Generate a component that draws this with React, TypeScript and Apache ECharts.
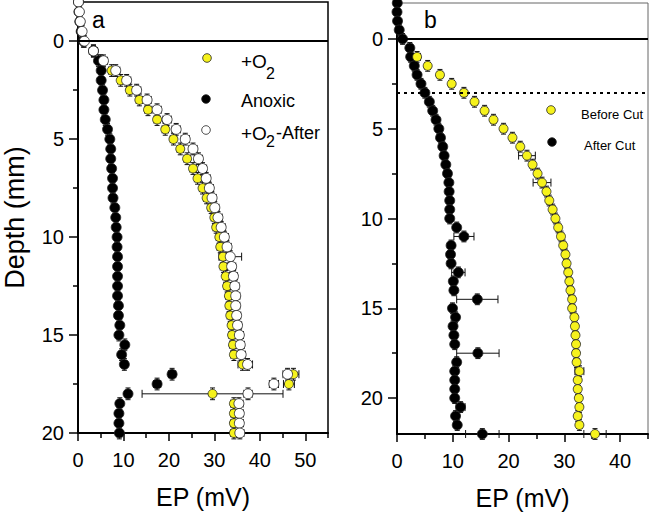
import React, { useEffect, useRef } from "react";
import * as echarts from "echarts";

// ---------- Panel a data (depth in mm, EP in mV) ----------
const depthA = [-2, -1.5, -1, -0.5, 0, 0.5, 1, 1.5, 2, 2.5, 3, 3.5, 4, 4.5, 5, 5.5, 6, 6.5, 7, 7.5, 8, 8.5, 9, 9.5, 10, 10.5, 11, 11.5, 12, 12.5, 13, 13.5, 14, 14.5, 15, 15.5, 16, 16.5, 17, 17.5, 18, 18.5, 19, 19.5, 20];
const o2A = [0.1, 0.2, 0.4, 0.7, 1.2, 3.4, 5.0, 7.4, 9.4, 11.4, 13.5, 15.4, 17.4, 19.2, 21.0, 22.5, 24.0, 25.3, 26.3, 27.4, 28.3, 29.3, 30.0, 30.4, 31.1, 31.3, 31.9, 32.0, 32.5, 32.8, 33.2, 33.3, 33.5, 33.8, 33.9, 34.1, 34.3, 36.2, 47.4, 46.4, 29.6, 34.3, 34.3, 34.3, 34.3];
const o2ErrA = [0.3, 0.3, 0.3, 0.3, 0.3, 0.7, 0.7, 0.7, 0.7, 0.7, 0.7, 0.7, 0.7, 0.7, 0.7, 0.7, 0.7, 0.7, 0.7, 0.7, 0.7, 0.7, 0.7, 0.7, 0.7, 0.7, 0.7, 0.7, 0.7, 0.7, 0.7, 0.7, 0.7, 0.7, 0.7, 0.7, 0.7, 1.0, 1.2, 1.2, 15.5, 0.7, 0.7, 0.7, 0.7];
const anoxicA = [0.1, 0.2, 0.4, 0.7, 1.2, 3.4, 4.5, 5.1, 5.1, 5.4, 5.7, 5.7, 6.0, 6.5, 7.0, 7.2, 7.2, 7.4, 7.6, 7.6, 7.7, 8.1, 8.3, 8.4, 8.6, 8.6, 8.7, 8.7, 8.7, 8.7, 8.7, 8.9, 8.9, 9.2, 9.0, 10.3, 9.6, 10.2, 20.7, 17.4, 11.0, 9.2, 9.0, 9.0, 9.1];
const anoxicErrA = [0.3, 0.3, 0.3, 0.3, 0.3, 0.5, 0.5, 0.5, 0.5, 0.5, 0.5, 0.5, 0.5, 0.5, 0.5, 0.5, 0.5, 0.5, 0.5, 0.5, 0.5, 0.5, 0.5, 0.5, 0.5, 0.5, 0.5, 0.5, 0.5, 0.5, 0.5, 0.5, 0.5, 0.5, 0.5, 0.5, 0.5, 0.5, 0.8, 0.8, 0.6, 0.5, 0.5, 0.5, 0.5];
const afterA = [0.1, 0.3, 0.5, 0.9, 1.4, 3.4, 5.6, 8.3, 10.7, 12.9, 15.2, 17.4, 19.6, 21.6, 23.6, 25.3, 26.5, 27.4, 28.2, 28.9, 29.5, 30.1, 30.8, 31.5, 32.2, 32.8, 33.5, 33.8, 34.2, 34.5, 34.7, 34.7, 34.9, 35.1, 35.5, 35.7, 35.9, 37.3, 46.1, 43.1, 37.4, 35.4, 35.5, 35.5, 35.6];
const afterErrA = [0.3, 0.3, 0.3, 0.3, 0.3, 0.9, 0.9, 0.9, 0.9, 0.9, 0.9, 0.9, 0.9, 0.9, 0.9, 0.9, 0.9, 0.9, 0.9, 0.9, 0.9, 0.9, 0.9, 0.9, 0.9, 0.9, 2.5, 0.9, 0.9, 0.9, 0.9, 0.9, 0.9, 0.9, 0.9, 0.9, 0.9, 1.1, 1.0, 1.0, 0.9, 0.9, 0.9, 0.9, 0.9];

// ---------- Panel b data ----------
const depthAfterCutB = [-2, -1.5, -1, -0.5, 0, 0.5, 1, 1.5, 2, 2.5, 3, 3.5, 4, 4.5, 5, 5.5, 6, 6.5, 7, 7.5, 8, 8.5, 9, 9.5, 10, 10.5, 11, 11.5, 12, 12.5, 13, 13.5, 14, 14.5, 15, 15.5, 16, 16.5, 17, 17.5, 18, 18.5, 19, 19.5, 20, 20.5, 21, 21.5, 22];
const afterCutB = [0.05, 0.0, 0.1, 0.4, 1.0, 2.3, 2.45, 3.1, 3.6, 4.3, 5.0, 5.8, 6.4, 7.0, 7.5, 7.8, 8.2, 8.45, 8.75, 9.05, 9.3, 9.35, 9.45, 9.45, 9.45, 10.7, 12.0, 9.7, 9.6, 9.7, 11.0, 10.1, 10.2, 14.4, 9.95, 10.5, 10.05, 10.2, 10.35, 14.5, 10.7, 10.35, 10.35, 10.35, 10.35, 11.4, 10.5, 10.8, 15.3];
const afterCutErrB = [0.2, 0.2, 0.2, 0.2, 0.2, 0.3, 0.3, 0.3, 0.3, 0.3, 0.3, 0.3, 0.3, 0.3, 0.3, 0.3, 0.3, 0.3, 0.3, 0.3, 0.3, 0.3, 0.3, 0.3, 0.3, 0.4, 1.8, 0.3, 0.3, 0.3, 1.2, 0.3, 0.3, 3.7, 0.3, 0.3, 0.3, 0.3, 0.3, 3.8, 0.3, 0.3, 0.3, 0.3, 0.3, 0.8, 0.3, 0.3, 3.0];
const depthBeforeCutB = [1, 1.5, 2, 2.5, 3, 3.5, 4, 4.5, 5, 5.5, 6, 6.5, 7, 7.5, 8, 8.5, 9, 9.5, 10, 10.5, 11, 11.5, 12, 12.5, 13, 13.5, 14, 14.5, 15, 15.5, 16, 16.5, 17, 17.5, 18, 18.5, 19, 19.5, 20, 20.5, 21, 21.5, 22];
const beforeCutB = [3.6, 5.5, 7.7, 9.8, 12.0, 13.9, 15.7, 17.3, 19.1, 20.7, 22.1, 23.3, 24.3, 25.2, 26.0, 26.8, 27.3, 27.9, 28.4, 28.9, 29.4, 29.8, 30.2, 30.4, 30.7, 30.9, 31.1, 31.4, 31.4, 31.8, 31.9, 32.0, 32.1, 32.1, 32.2, 32.7, 32.4, 32.4, 32.6, 32.7, 32.4, 32.7, 35.5];
const beforeCutErrB = [0.6, 0.5, 0.5, 0.5, 0.5, 0.5, 0.5, 0.5, 0.5, 0.5, 0.5, 1.5, 0.5, 0.5, 1.6, 0.5, 0.5, 0.5, 0.5, 0.5, 0.5, 0.5, 0.5, 0.5, 0.5, 0.5, 0.5, 0.5, 0.5, 0.5, 0.5, 0.5, 0.5, 0.5, 0.5, 0.8, 0.5, 0.5, 0.5, 0.5, 0.5, 0.5, 2.0];
const depthErr = 0.3;

// ---------- Axis ticks ----------
const xMajorA = [0, 10, 20, 30, 40, 50];
const xMinorA = [5, 15, 25, 35, 45, 55];
const xMajorB = [0, 10, 20, 30, 40];
const xMinorB = [5, 15, 25, 35, 45];
const yMajor = [0, 5, 10, 15, 20];
const yMinor = [2.5, 7.5, 12.5, 17.5];
const surfaceDepth = 0;
const cutDepth = 3;

const FONT = "'Liberation Sans', Arial, sans-serif";
const YELLOW = "#f6f21c";

const pts = (vals: number[], depths: number[]) => vals.map((v, i) => [v, depths[i]]);
const errPts = (vals: number[], depths: number[], errs: number[]) =>
  vals.map((v, i) => [v, depths[i], errs[i], depthErr]);

const renderErr = (color: string) => (params: any, api: any) => {
  const x = api.value(0);
  const y = api.value(1);
  const ex = api.value(2);
  const ey = api.value(3);
  const l = api.coord([x - ex, y]);
  const r = api.coord([x + ex, y]);
  const t = api.coord([x, y - ey]);
  const b = api.coord([x, y + ey]);
  const st = { stroke: color, lineWidth: 1 };
  const cap = 4;
  const vcap = 2.5;
  return {
    type: "group",
    children: [
      { type: "line", shape: { x1: l[0], y1: l[1], x2: r[0], y2: r[1] }, style: st },
      { type: "line", shape: { x1: l[0], y1: l[1] - cap, x2: l[0], y2: l[1] + cap }, style: st },
      { type: "line", shape: { x1: r[0], y1: r[1] - cap, x2: r[0], y2: r[1] + cap }, style: st },
      { type: "line", shape: { x1: t[0], y1: t[1], x2: b[0], y2: b[1] }, style: st },
      { type: "line", shape: { x1: t[0] - vcap, y1: t[1], x2: t[0] + vcap, y2: t[1] }, style: st },
      { type: "line", shape: { x1: b[0] - vcap, y1: b[1], x2: b[0] + vcap, y2: b[1] }, style: st },
    ],
  };
};

const scatter = (name: string, data: number[][], xi: number, yi: number, fill: string, size: number, extra: any = {}) => ({
  type: "scatter",
  name,
  xAxisIndex: xi,
  yAxisIndex: yi,
  data,
  symbol: "circle",
  symbolSize: size,
  clip: false,
  silent: true,
  itemStyle: { color: fill, borderColor: "#222", borderWidth: 0.8, opacity: 1 },
  ...extra,
});

const errSeries = (name: string, data: number[][], xi: number, yi: number, color = "#111") => ({
  type: "custom",
  name: name + " error",
  xAxisIndex: xi,
  yAxisIndex: yi,
  coordinateSystem: "cartesian2d",
  encode: { x: 0, y: 1 },
  data,
  clip: false,
  silent: true,
  renderItem: renderErr(color),
});

const xAxisBase = (grid: number, max: number, ticks: number[], minor: boolean, name?: string) => ({
  type: "value",
  gridIndex: grid,
  position: "bottom",
  min: 0,
  max,
  splitLine: { show: false },
  axisLine: { show: !minor, onZero: false, lineStyle: { color: "#000", width: 2 } },
  axisTick: { show: true, inside: false, length: minor ? 5 : 8, customValues: ticks, lineStyle: { color: "#000", width: 1.5 } },
  axisLabel: minor
    ? { show: false }
    : { show: true, customValues: ticks, fontSize: 20, fontFamily: FONT, color: "#000", margin: 17 },
  name: name || "",
  nameLocation: "middle",
  nameGap: 51,
  nameTextStyle: { fontSize: 25, fontFamily: FONT, color: "#000" },
});

const yAxisBase = (grid: number, max: number, ticks: number[], minor: boolean, name?: string) => ({
  type: "value",
  gridIndex: grid,
  position: "left",
  inverse: true,
  min: -2,
  max,
  splitLine: { show: false },
  axisLine: { show: !minor, onZero: false, lineStyle: { color: "#000", width: 2 } },
  axisTick: { show: true, inside: false, length: minor ? 5 : 9, customValues: ticks, lineStyle: { color: "#000", width: 1.5 } },
  axisLabel: minor
    ? { show: false }
    : { show: true, customValues: ticks, fontSize: 20, fontFamily: FONT, color: "#000", margin: 14 },
  name: name || "",
  nameLocation: "middle",
  nameGap: 50,
  nameTextStyle: { fontSize: 27, fontFamily: FONT, color: "#000" },
});

const txt = (x: number, y: number, text: string, size: number, align = "left") => ({
  type: "text",
  x,
  y,
  silent: true,
  style: { text, fontSize: size, fontFamily: FONT, fill: "#000", align, verticalAlign: "middle" },
});
const dot = (x: number, y: number, fill: string) => ({
  type: "circle",
  silent: true,
  shape: { cx: x, cy: y, r: 4.3 },
  style: { fill, stroke: "#222", lineWidth: 0.8 },
});

export default function App() {
  const ref = useRef<HTMLDivElement>(null);
  useEffect(() => {
    if (!ref.current) return;
    const chart = echarts.init(ref.current, undefined, { renderer: "svg" });
    const option: any = {
      animation: false,
      backgroundColor: "#fff",
      grid: [
        { left: 76, top: 2, width: 252, height: 431, show: true, borderColor: "#000", borderWidth: 1.5, backgroundColor: "transparent" },
        { left: 397, top: 3, width: 251, height: 432, show: true, borderColor: "#666", borderWidth: 1, backgroundColor: "transparent" },
      ],
      xAxis: [
        xAxisBase(0, 55, xMajorA, false, "EP (mV)"),
        xAxisBase(0, 55, xMinorA, true),
        xAxisBase(1, 45, xMajorB, false, "EP (mV)"),
        xAxisBase(1, 45, xMinorB, true),
      ],
      yAxis: [
        yAxisBase(0, 20, yMajor, false, "Depth (mm)"),
        yAxisBase(0, 20, yMinor, true),
        yAxisBase(1, 22, yMajor, false),
        yAxisBase(1, 22, yMinor, true),
      ],
      series: [
        scatter("+O2", pts(o2A, depthA), 0, 0, YELLOW, 9, {
          markLine: {
            silent: true,
            symbol: "none",
            label: { show: false },
            lineStyle: { color: "#000", width: 2, type: "solid" },
            data: [{ yAxis: surfaceDepth }],
          },
        }),
        errSeries("+O2", errPts(o2A, depthA, o2ErrA), 0, 0),
        scatter("Anoxic", pts(anoxicA, depthA), 0, 0, "#000", 10),
        errSeries("Anoxic", errPts(anoxicA, depthA, anoxicErrA), 0, 0),
        scatter("+O2-After", pts(afterA, depthA), 0, 0, "#fff", 10),
        errSeries("+O2-After", errPts(afterA, depthA, afterErrA), 0, 0),
        scatter("After Cut", pts(afterCutB, depthAfterCutB), 2, 2, "#000", 10, {
          markLine: {
            silent: true,
            symbol: "none",
            label: { show: false },
            data: [
              { yAxis: surfaceDepth, lineStyle: { color: "#000", width: 2, type: "solid" } },
              { yAxis: cutDepth, lineStyle: { color: "#000", width: 2, type: [3, 4] } },
            ],
          },
        }),
        errSeries("After Cut", errPts(afterCutB, depthAfterCutB, afterCutErrB), 2, 2),
        scatter("Before Cut", pts(beforeCutB, depthBeforeCutB), 2, 2, YELLOW, 9),
        errSeries("Before Cut", errPts(beforeCutB, depthBeforeCutB, beforeCutErrB), 2, 2),
      ],
      graphic: [
        txt(92, 20, "a", 23),
        txt(424, 20, "b", 23),
        // panel a legend
        dot(207, 58, YELLOW),
        txt(241, 61, "+O", 19),
        txt(266, 73, "2", 16),
        dot(206, 99, "#000"),
        txt(241, 101, "Anoxic", 18),
        dot(206, 130, "#fff"),
        txt(241, 133, "+O", 19),
        txt(266, 141, "2", 16),
        txt(276, 133, "-After", 18),
        // panel b legend
        dot(551, 110, YELLOW),
        txt(581, 114, "Before Cut", 13),
        dot(552, 142, "#000"),
        txt(584, 145, "After Cut", 13),
      ],
    };
    chart.setOption(option);
    return () => chart.dispose();
  }, []);
  return <div ref={ref} style={{ position: "absolute", left: 0, top: 0, width: 650, height: 515 }} />;
}
